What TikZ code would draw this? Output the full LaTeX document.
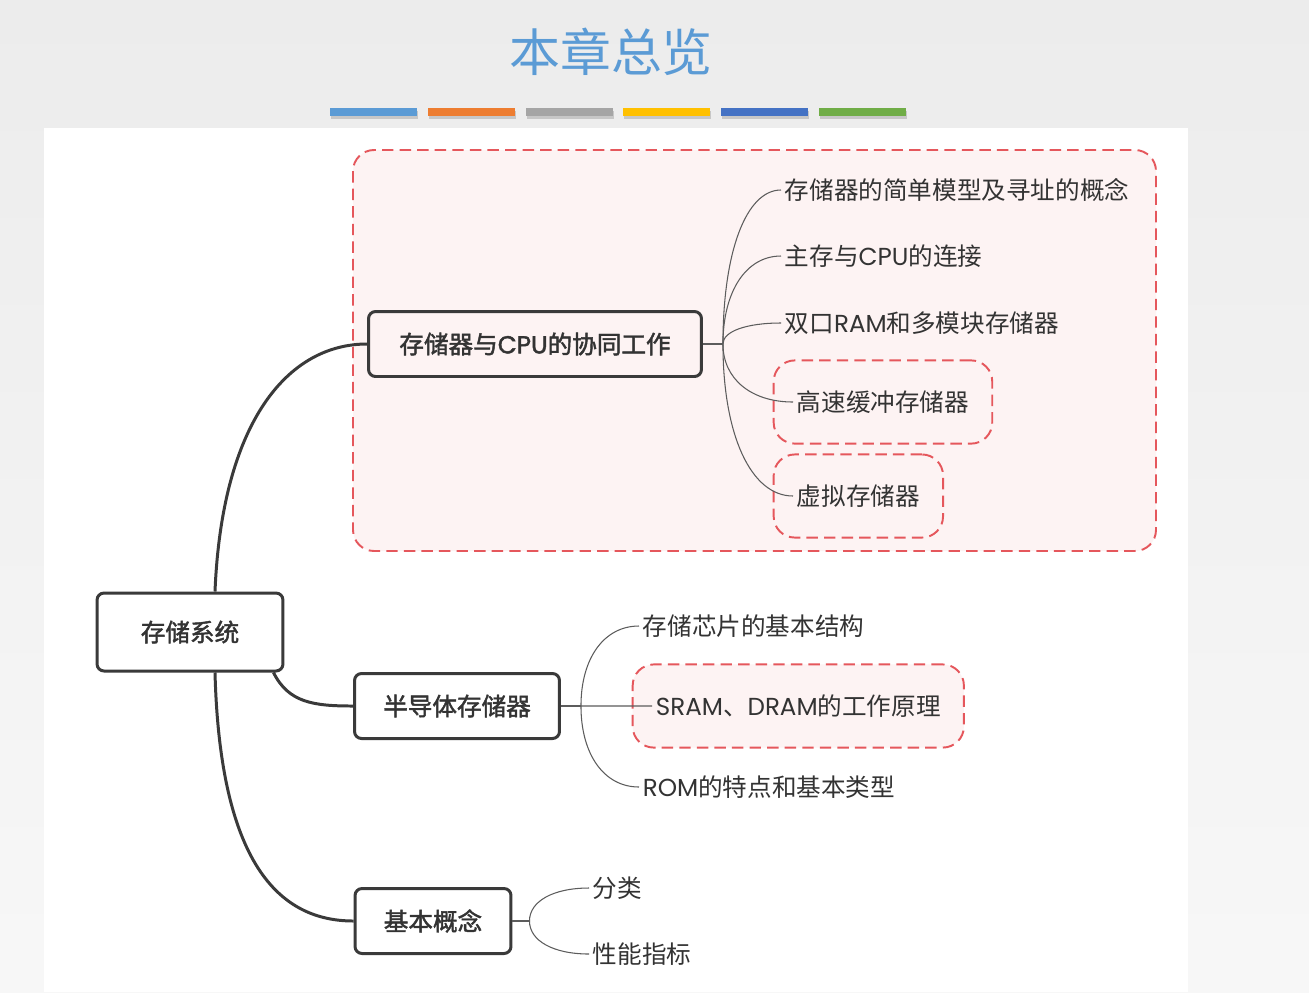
\documentclass[tikz,border=0pt]{standalone}
\usepackage{fontspec}
\setmainfont{Noto Sans CJK SC}
\newfontfamily\topicfont{Noto Sans CJK SC}[FakeBold=1.8]
\newfontfamily\latinfont{Poppins}
\newfontfamily\topiclatin{Poppins}[FakeBold=1.8]
\usepackage{xcolor}
\usetikzlibrary{positioning,fit,backgrounds,calc}
\definecolor{mapink}{HTML}{3A3A3A}
\definecolor{maptext}{HTML}{333333}
\definecolor{maptwig}{HTML}{5C5C5C}
\definecolor{markred}{HTML}{E5575C}
\definecolor{markpink}{HTML}{FDF3F3}
\definecolor{pagegray}{HTML}{ECECEC}
\definecolor{titleblue}{HTML}{5B9BD5}
\definecolor{barblue}{HTML}{5B9BD5}
\definecolor{barorange}{HTML}{ED7D31}
\definecolor{bargray}{HTML}{A5A5A5}
\definecolor{baryellow}{HTML}{FFC000}
\definecolor{bardeep}{HTML}{4472C4}
\definecolor{bargreen}{HTML}{70AD47}
\tikzstyle{topic} = [draw=mapink, line width=1.7pt, rounded corners=4pt, text=maptext, font=\fontsize{14}{16}\selectfont\topicfont, minimum height=1.3cm]
\tikzstyle{leaf} = [anchor=west, inner sep=2pt, text=maptext, font=\fontsize{14}{16}\selectfont]
\tikzstyle{trunk} = [mapink, line width=1.7pt]
\tikzstyle{twig} = [maptwig, line width=0.6pt]
\tikzstyle{markbox} = [draw=markred, fill=markpink, line width=1.1pt, dash pattern=on 6.5pt off 3.5pt, rounded corners=12pt]

\begin{document}
\begin{tikzpicture}[x=0.02cm, y=-0.02cm]
\useasboundingbox (0,0) rectangle (1309,992);

\node[font=\fontsize{29}{32}\selectfont, text=titleblue] (title) at (611,52) {本章总览};
\foreach \i/\c in {0/barblue,1/barorange,2/bargray,3/baryellow,4/bardeep,5/bargreen}{
  \fill[black!22] (331+97.8*\i,111) rectangle +(87,8);
  \fill[\c] (330+97.8*\i,108) rectangle +(87,8);
}

\node[topic, minimum width=3.72cm, minimum height=1.56cm] (root) at (190,632) {存储系统};
\node[topic, minimum width=6.66cm] (cpu) at (535,344) {存储器与{\topiclatin CPU}的协同工作};
\node[topic, minimum width=4.1cm] (semi) at (457,706) {半导体存储器};
\node[topic, minimum width=3.12cm] (basic) at (433,921) {基本概念};

\node[leaf] (c1) at (781,190) {存储器的简单模型及寻址的概念};
\node[leaf] (c2) at (781,256) {主存与{\latinfont CPU}的连接};
\node[leaf] (c3) at (781,323) {双口{\latinfont RAM}和多模块存储器};
\node[leaf] (c4) at (793,402) {高速缓冲存储器};
\node[leaf] (c5) at (793,496) {虚拟存储器};
\node[leaf] (s1) at (639,626) {存储芯片的基本结构};
\node[leaf] (s2) at (652,706) {{\latinfont SRAM}、{\latinfont DRAM}的工作原理};
\node[leaf] (s3) at (639,787) {{\latinfont ROM}的特点和基本类型};
\node[leaf] (b1) at (589,888) {分类};
\node[leaf] (b2) at (589,954) {性能指标};

\coordinate (f1) at ($(cpu.east)+(20,0)$);
\coordinate (f2) at ($(semi.east)+(20,0)$);
\coordinate (f3) at ($(basic.east)+(17,0)$);

\draw[trunk] ($(root.north)+(25,0)$) .. controls +(7,-170) and +(-79,0) .. (cpu.west);
\draw[trunk] ($(root.south east)+(-11,0)$) .. controls +(15,30) and +(-40,0) .. (semi.west);
\draw[trunk] ($(root.south)+(25,0)$) .. controls +(5,190) and +(-75,0) .. (basic.west);

\draw[twig] (cpu.east) -- (f1);
\draw[twig] (semi.east) -- (f2);
\draw[twig] (basic.east) -- (f3);
\foreach \tip/\fork in {c1/f1,c2/f1,c3/f1,c4/f1,c5/f1,s1/f2,s2/f2,s3/f2,b1/f3,b2/f3}
  \draw[twig] (\fork) .. controls ($(\fork)!0.6!(\fork|-\tip.west)$) and ($(\tip.west)!0.6!(\tip.west-|\fork)$) .. (\tip.west);

\begin{scope}[on background layer]
  \shade[top color=pagegray, bottom color=pagegray!40] (0,0) rectangle (1309,992);
  \fill[white] (44,128) rectangle (1188,992);
  \draw[markbox] (353,150) rectangle (1156,551);
  \node[markbox, fit=(c4), inner xsep=11pt, inner ysep=15pt] (c4mark) {};
  \node[markbox, fit=(c5), inner xsep=11pt, inner ysep=15pt] (c5mark) {};
  \node[markbox, fit=(s2), inner xsep=11pt, inner ysep=15pt] (s2mark) {};
\end{scope}
\end{tikzpicture}
\end{document}
